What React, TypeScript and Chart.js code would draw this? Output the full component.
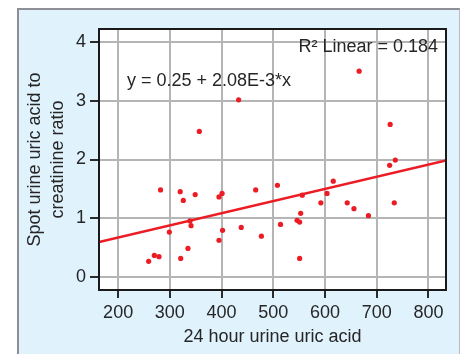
import { useEffect, useRef } from "react";
import { Chart, registerables } from "chart.js";

Chart.register(...registerables);

// 24 hour urine uric acid (x) and spot urine uric acid to creatinine ratio (y)
const uricAcid24h = [
  259, 270, 279, 282, 299, 320, 321, 326, 335, 339, 341, 349, 357, 395, 395, 401,
  402, 433, 438, 466, 477, 508, 514, 546, 551, 551, 553, 556, 592, 604, 616, 643,
  656, 666, 684, 725, 726, 734, 736,
];
const spotRatio = [
  0.26, 0.36, 0.34, 1.48, 0.76, 1.45, 0.31, 1.30, 0.48, 0.95, 0.87, 1.40, 2.48, 0.62, 1.36, 1.42,
  0.79, 3.02, 0.84, 1.48, 0.69, 1.56, 0.89, 0.96, 0.93, 0.31, 1.08, 1.39, 1.26, 1.42, 1.63, 1.26,
  1.16, 3.51, 1.04, 1.90, 2.60, 1.26, 1.99,
];

const xTicks = [200, 300, 400, 500, 600, 700, 800];
const yTicks = [0, 1, 2, 3, 4];
const xRange = [163, 834];
const yRange = [-0.23, 4.23];

const fitIntercept = 0.25;
const fitSlope = 2.08e-3;
const fitLabel = "y = 0.25 + 2.08E-3*x";
const r2Label = "R\u00B2 Linear = 0.184";
const xTitle = "24 hour urine uric acid";
const yTitle = ["Spot urine uric acid to", "creatinine ratio"];

const FONT = "'Liberation Sans', Arial, Helvetica, sans-serif";
const RED = "#ec1c24";
const TEXT = "#262626";

const plotDecor = {
  id: "plotDecor",
  beforeDraw(chart: any) {
    const { ctx, chartArea } = chart;
    ctx.save();
    ctx.fillStyle = "#ffffff";
    ctx.fillRect(chartArea.left, chartArea.top, chartArea.right - chartArea.left, chartArea.bottom - chartArea.top);
    ctx.restore();
  },
  afterDraw(chart: any) {
    const { ctx, chartArea } = chart;
    ctx.save();
    ctx.strokeStyle = "#1a1a1a";
    ctx.lineWidth = 2;
    ctx.strokeRect(chartArea.left, chartArea.top, chartArea.right - chartArea.left, chartArea.bottom - chartArea.top);
    ctx.fillStyle = TEXT;
    ctx.font = `18px ${FONT}`;
    ctx.textBaseline = "alphabetic";
    ctx.textAlign = "right";
    ctx.fillText(r2Label, chartArea.right - 8, chartArea.top + 23);
    ctx.textAlign = "left";
    ctx.fillText(fitLabel, chartArea.left + 28, chartArea.top + 57);
    ctx.restore();
  },
};

export default function App() {
  const ref = useRef<HTMLCanvasElement | null>(null);

  useEffect(() => {
    document.body.style.margin = "0";
    const canvas = ref.current;
    if (!canvas) return;
    const fitX = [xRange[0], xRange[1]];
    const chart = new Chart(canvas, {
      type: "scatter",
      data: {
        datasets: [
          {
            type: "line",
            data: fitX.map((x) => ({ x, y: fitIntercept + fitSlope * x })),
            borderColor: RED,
            borderWidth: 2.5,
            pointRadius: 0,
            fill: false,
          } as any,
          {
            data: uricAcid24h.map((x, i) => ({ x, y: spotRatio[i] })),
            backgroundColor: RED,
            borderWidth: 0,
            pointRadius: 2.6,
          },
        ],
      },
      options: {
        animation: false,
        responsive: false,
        layout: { padding: { top: 29, right: 15, left: 0, bottom: 0 } },
        plugins: { legend: { display: false }, tooltip: { enabled: false } },
        scales: {
          x: {
            type: "linear",
            min: xRange[0],
            max: xRange[1],
            afterBuildTicks: (s: any) => {
              s.ticks = xTicks.map((v) => ({ value: v }));
            },
            afterFit: (s: any) => {
              s.height = 64;
            },
            grid: { color: "#b5b5b5", lineWidth: 2, tickColor: "#2a2a2a", tickLength: 8 },
            border: { display: false },
            ticks: { color: TEXT, font: { family: FONT, size: 18 }, padding: 4, maxRotation: 0 },
            title: {
              display: true,
              text: xTitle,
              color: TEXT,
              font: { family: FONT, size: 18, lineHeight: 1.28 },
              padding: { top: 0, bottom: 5 },
            },
          },
          y: {
            type: "linear",
            min: yRange[0],
            max: yRange[1],
            afterBuildTicks: (s: any) => {
              s.ticks = yTicks.map((v) => ({ value: v }));
            },
            afterFit: (s: any) => {
              s.width = 99;
            },
            grid: { color: "#b5b5b5", lineWidth: 2, tickColor: "#2a2a2a", tickLength: 9 },
            border: { display: false },
            ticks: { color: TEXT, font: { family: FONT, size: 18 }, padding: 4 },
            title: {
              display: true,
              text: yTitle,
              color: TEXT,
              font: { family: FONT, size: 18, lineHeight: 1.28 },
              padding: { top: 23.5, bottom: 0 },
            },
          },
        },
      },
      plugins: [plotDecor],
    });
    return () => chart.destroy();
  }, []);

  return (
    <div style={{ position: "absolute", left: 0, top: 0, width: 461, height: 354, overflow: "hidden", background: "#ffffff" }}>
      <div
        style={{
          position: "absolute",
          left: 17,
          top: 8,
          width: 440,
          height: 360,
          background: "#e0f2fc",
          borderLeft: "2px solid #8e8e96",
          borderTop: "2px solid #8e8e96",
          borderRight: "1px solid #b4bcc4",
        }}
      />
      <canvas ref={ref} width={461} height={354} style={{ position: "absolute", left: 0, top: 0, width: 461, height: 354 }} />
    </div>
  );
}
